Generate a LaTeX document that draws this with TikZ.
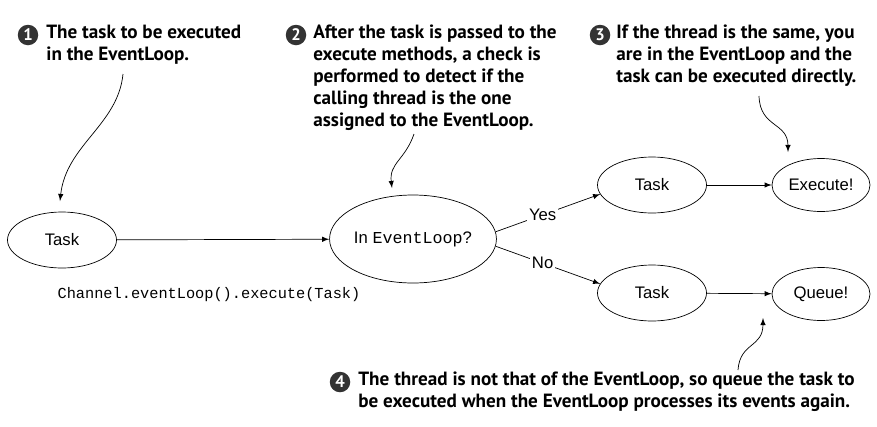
\documentclass[tikz,border=0pt]{standalone}
\usepackage{fontspec}
\setmainfont{Liberation Sans}
\setsansfont{Liberation Sans}
\setmonofont{Liberation Mono}
\newfontfamily\calloutfont{PT Sans}
\usetikzlibrary{arrows,shapes,positioning}
\tikzset{
  basic/.style    = {draw, ellipse, thin, inner sep=0pt, font=\sffamily\fontsize{9.5}{11}\selectfont},
  task/.style     = {basic, minimum width=21.8mm, minimum height=11.2mm},
  decision/.style = {basic, minimum width=32.6mm, minimum height=17.6mm},
  result/.style   = {basic, minimum width=19.6mm, minimum height=10.6mm},
  choice/.style   = {fill=white, inner sep=1pt, font=\sffamily\fontsize{9.5}{11}\selectfont},
  callout/.style  = {anchor=north west, inner sep=0pt, align=left,
  font=\calloutfont\bfseries\fontsize{10.9}{12.5}\selectfont},
  num/.style      = {circle, fill=black!80, text=white, inner sep=0pt, minimum size=4.1mm,
  font=\calloutfont\bfseries\fontsize{9.5}{9.5}\selectfont},
  note/.style     = {->, thin}
}

\begin{document}
\begin{tikzpicture}[x=0.2mm, y=-0.2mm, >=latex]
\useasboundingbox (0,0) rectangle (877,426);

% the flow, placed at coordinates
    \node[task] (task) at (62,240) {Task};
    \node[decision] (inloop) at (413,239) {In \texttt{EventLoop}?};
    \node[task] (task1) at (652,185) {Task};
    \node[task] (task2) at (652,293) {Task};
    \node[result] (exec) at (821,185) {Execute!};
    \node[result] (queue) at (821,294) {Queue!};
    \node[font=\ttfamily\fontsize{8.7}{10}\selectfont] (call) at (209,295) {Channel.eventLoop().execute(Task)};

% the callouts
    \node[num] (n1) at (28,35) {1};
    \node[callout] (note1) at (46,25) {The task to be executed\\in the EventLoop.};
    \node[num] (n2) at (296,35) {2};
    \node[callout] (note2) at (313,25) {After the task is passed to the\\execute methods, a check is\\performed to detect if the\\calling thread is the one\\assigned to the EventLoop.};
    \node[num] (n3) at (600,35) {3};
    \node[callout] (note3) at (616,25) {If the thread is the same, you\\are in the EventLoop and the\\task can be executed directly.};
    \node[num] (n4) at (340,382) {4};
    \node[callout] (note4) at (358,372) {The thread is not that of the EventLoop, so queue the task to\\be executed when the EventLoop processes its events again.};

% lines between the nodes
    \draw[->] (task) -- (inloop);
    \draw[->] (inloop.5) -- node[choice, pos=0.45] (yes) {Yes} (task1.190);
    \draw[->] (inloop.-5) -- node[choice, pos=0.45] (no) {No} (task2.170);
    \draw[->] (task1) -- (exec);
    \draw[->] (task2) -- (queue);

% wavy arrows from the callouts
    \coordinate (from1) at (123,74);
    \coordinate (to1) at (60,201);
    \coordinate (from2) at (414,134);
    \coordinate (to2) at (392,188);
    \coordinate (from3) at (759,96);
    \coordinate (to3) at (788,152);
    \coordinate (from4) at (738,370);
    \coordinate (to4) at (763,318);
    \draw[note] (from1) .. controls (118,125) and (66,145) .. (to1);
    \draw[note] (from2) .. controls (405,160) and (389,163) .. (to2);
    \draw[note] (from3) .. controls (760,128) and (788,122) .. (to3);
    \draw[note] (from4) .. controls (740,342) and (763,348) .. (to4);
\end{tikzpicture}
\end{document}
